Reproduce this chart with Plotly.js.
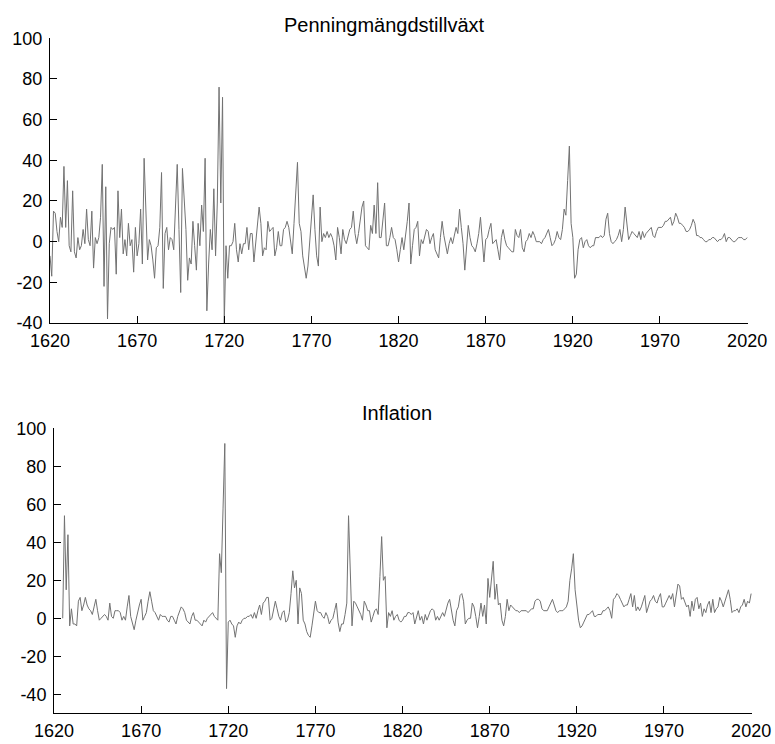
<!DOCTYPE html>
<html>
<head>
<meta charset="utf-8">
<script src="https://cdn.plot.ly/plotly-3.0.1.min.js"></script>
<style>html,body{margin:0;padding:0;background:#fff;}#chart{width:775px;height:744px;}</style>
</head>
<body>
<div id="chart"></div>
<script>
// Penningmängdstillväxt (money growth, %), yearly from 1620
const moneyStartYear = 1620;
const moneyGrowth = [
-7,-17,15,14,5,0,12,7,37,7,
30,-2,-5,25,-5,-8,2,-4,-2,6,
-1,16,1,-2,15,-13,2,-1,2,12,
38,-22,27,-38,-1,7,6,7,-16,25,
2,16,-6,1,-7,9,-2,1,-15,7,
-7,-1,16,-11,41,12,-9,1,-2,-9,
-18,-3,-2,7,34,-23,4,7,-4,2,
1,-4,14,38,6,-25,36,19,6,-19,
-8,-11,10,-2,-14,9,-2,18,5,41,
-34,-11,6,-4,26,-7,19,76,19,71,
-40,-2,-18,-2,-2,0,9,-4,-10,-1,
-6,-1,-1,7,-4,4,4,-10,-1,7,
17,9,-7,-3,-4,10,5,6,7,-7,
-3,5,-2,-2,6,7,10,7,1,-6,
9,27,39,9,5,-7,-13,-18,-12,-1,
12,23,6,-7,-12,17,0,4,2,5,
2,4,2,-2,-9,7,2,-6,6,1,
-1,2,6,7,15,4,-1,4,10,17,
20,-2,-3,-4,8,4,18,4,29,2,
2,12,19,-2,-2,2,7,2,1,-4,
-10,-4,2,-4,2,10,19,-11,-2,6,
7,10,-7,1,-1,2,6,5,-1,2,
4,-4,-6,-8,2,10,3,-1,-6,-1,
2,-1,4,7,4,16,7,-1,-14,-2,
8,2,-2,-3,-5,-1,4,12,2,-10,
1,2,6,9,-1,0,1,-4,-9,2,
6,1,-2,-3,-4,-5,-5,6,3,2,
6,-3,-5,0,1,4,2,5,3,0,
0,0,-1,1,2,4,6,2,-2,-1,
1,5,2,1,6,16,13,30,47,9,
2,-18,-16,-4,1,2,-3,0,1,-2,
-3,-2,-2,2,2,2,3,2,3,11,
14,4,0,-1,0,1,3,6,0,6,
17,7,1,3,5,4,3,2,5,1,
5,2,4,5,6,7,3,2,5,7,
7,7,8,10,10,11,12,8,10,14,
12,9,9,8,7,5,5,6,8,11,
9,3,3,2,2,1,0,0,1,1,
2,2,1,0,1,1,2,4,0,2,
2,1,0,0,1,2,2,2,1,1,
2
];

// Inflation (%), yearly from 1625
const inflationStartYear = 1625;
const inflation = [
0,54,15,44,-4,
5,-3,-3,-4,9,11,4,7,11,7,
5,4,2,6,10,4,-1,0,1,2,
1,-1,8,1,0,4,4,4,3,-1,
1,-1,6,12,1,-3,-6,-1,4,7,
10,-1,1,3,9,14,9,4,3,1,
-1,2,1,1,1,-1,-2,1,1,-1,
-3,1,4,6,5,3,-1,-2,-3,1,
3,-1,-1,-2,-3,-4,-1,-2,0,1,
2,3,1,0,-1,34,24,58,92,-37,
-2,-1,-3,-4,-10,-4,-2,-3,-1,0,
0,1,1,2,0,3,0,4,7,2,
8,9,11,11,-1,0,4,9,5,1,
-1,3,4,-2,-1,3,13,25,16,20,
-3,16,13,-1,-3,-7,-9,-10,-4,4,
9,4,3,3,1,0,3,1,-3,-1,
0,4,8,-2,-7,-3,-3,2,8,54,
20,-4,9,8,6,4,2,-1,9,7,
4,4,-2,1,4,5,2,22,43,20,
22,-5,3,1,4,-1,1,2,-1,-2,
-1,1,1,3,3,2,3,-3,1,4,
-1,1,-3,2,-1,2,4,5,4,-1,
1,-1,1,3,1,5,8,10,3,-1,
-4,4,6,12,13,9,-3,-1,0,0,
8,6,1,-5,1,8,1,7,-3,21,
11,20,30,10,18,7,8,-1,-4,1,
10,4,7,6,5,4,4,3,4,4,
4,4,3,4,5,5,9,10,10,9,
5,4,4,4,6,8,10,7,4,3,
4,4,4,5,6,9,20,26,34,15,
6,-1,-5,-4,-2,0,2,2,3,4,
1,1,2,2,2,4,4,5,6,4,
0,10,11,13,12,10,8,6,7,7,
10,13,6,12,4,6,4,6,9,12,
3,6,9,10,12,9,8,11,13,6,
6,8,10,12,10,13,6,11,18,17,
10,11,8,6,7,1,9,4,10,11,
5,8,1,5,3,7,9,3,10,3,
5,6,11,9,6,9,11,15,10,3,
4,4,5,3,6,7,10,6,9,8,
13
];

const titleTop = "Penningmängdstillväxt";
const titleBottom = "Inflation";
const xTickVals = [1620,1670,1720,1770,1820,1870,1920,1970,2020];
const yTickVals = [-40,-20,0,20,40,60,80,100];

const moneyYears = moneyGrowth.map((_, i) => moneyStartYear + i);
const inflationYears = inflation.map((_, i) => inflationStartYear + i);

const W = 775, H = 744;
const FONT = "Liberation Sans, Arial, sans-serif";
const lineStyle = {color: "#727272", width: 1};

function xAxis(domain, anchor) {
  return {
    domain: domain, anchor: anchor, range: [1620, 2020.5],
    tickvals: xTickVals, ticktext: xTickVals.map(String),
    ticks: "inside", ticklen: 7, tickwidth: 1, tickcolor: "#000",
    showline: true, linecolor: "#000", linewidth: 1,
    showgrid: false, zeroline: false,
    tickfont: {family: FONT, size: 18, color: "#000"},
    ticklabelstandoff: 1
  };
}
function yAxis(domain, anchor, range) {
  return {
    domain: domain, anchor: anchor, range: range,
    tickvals: yTickVals, ticktext: yTickVals.map(v => String(v)),
    ticks: "inside", ticklen: 7, tickwidth: 1, tickcolor: "#000",
    showline: true, linecolor: "#000", linewidth: 1,
    showgrid: false, zeroline: false,
    tickfont: {family: FONT, size: 18, color: "#000"},
    ticklabelstandoff: 3
  };
}

const data = [
  {x: moneyYears, y: moneyGrowth, type: "scatter", mode: "lines", line: lineStyle, xaxis: "x", yaxis: "y", hoverinfo: "skip"},
  {x: inflationYears, y: inflation, type: "scatter", mode: "lines", line: lineStyle, xaxis: "x2", yaxis: "y2", hoverinfo: "skip"}
];

const layout = {
  width: W, height: H,
  margin: {l: 0, r: 0, t: 0, b: 0},
  paper_bgcolor: "#fff", plot_bgcolor: "#fff",
  showlegend: false,
  xaxis: xAxis([50/W, 748/W], "y"),
  yaxis: yAxis([1 - 323/H, 1 - 38.3/H], "x", [-40, 100]),
  xaxis2: xAxis([54/W, 752/W], "y2"),
  yaxis2: yAxis([1 - 713.3/H, 1 - 428.3/H], "x2", [-50, 100]),
  annotations: [
    {text: titleTop, xref: "paper", yref: "paper", x: 384/W, y: 1 - 25/H, xanchor: "center", yanchor: "middle", showarrow: false, font: {family: FONT, size: 20, color: "#000"}},
    {text: titleBottom, xref: "paper", yref: "paper", x: 397/W, y: 1 - 413/H, xanchor: "center", yanchor: "middle", showarrow: false, font: {family: FONT, size: 20, color: "#000"}}
  ]
};

Plotly.newPlot("chart", data, layout, {staticPlot: true, displayModeBar: false});
</script>
</body>
</html>
